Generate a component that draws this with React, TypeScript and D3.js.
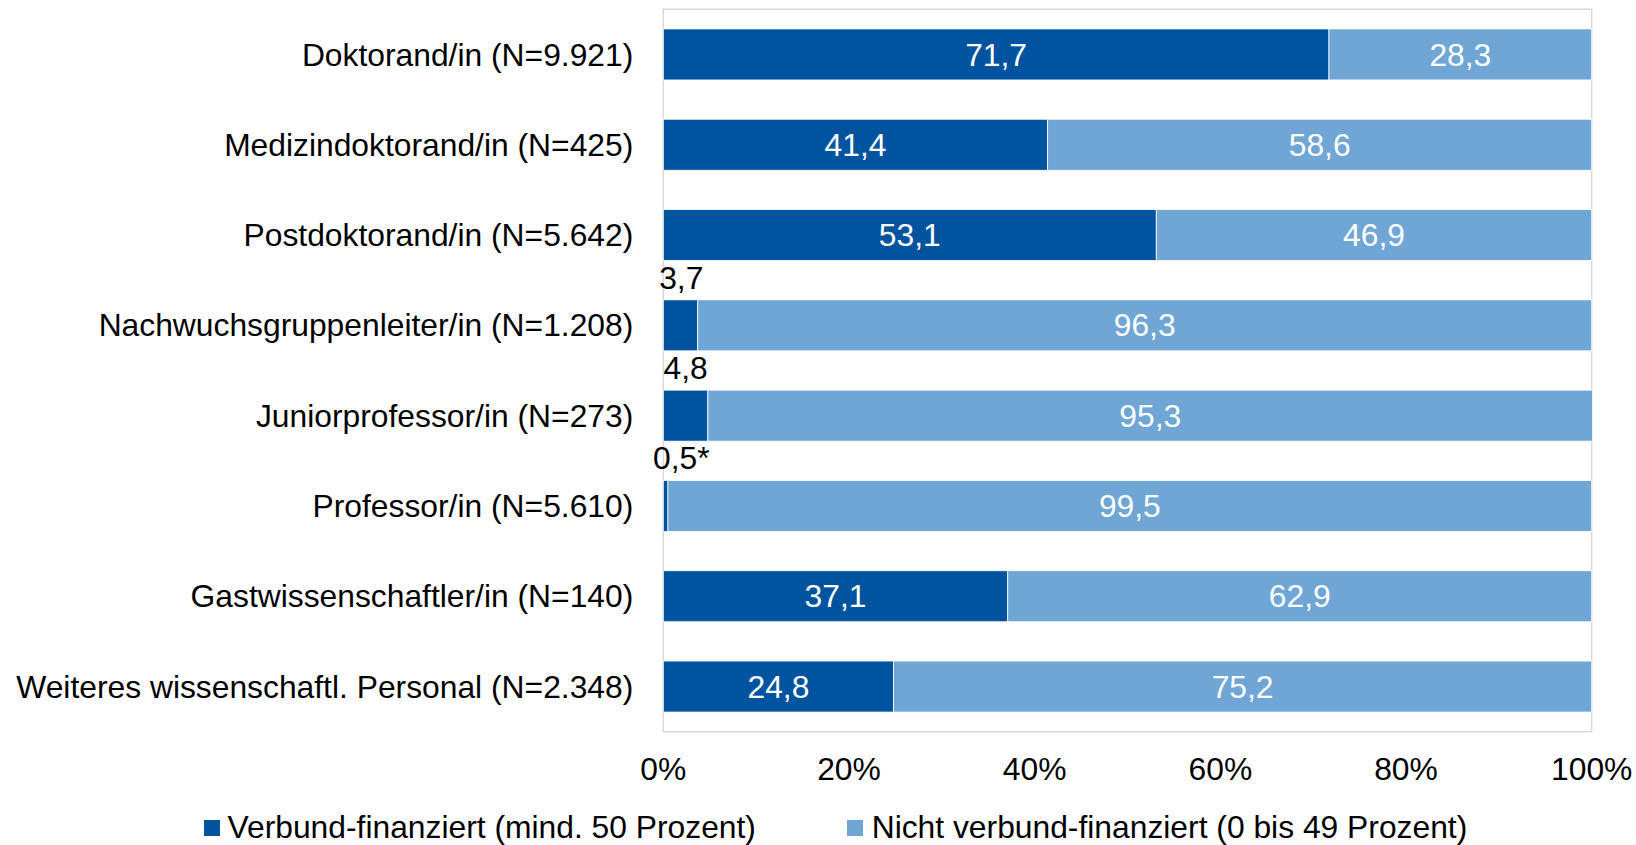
import React from "react";
import * as d3 from "d3";

const categories = [
  "Doktorand/in (N=9.921)",
  "Medizindoktorand/in (N=425)",
  "Postdoktorand/in (N=5.642)",
  "Nachwuchsgruppenleiter/in (N=1.208)",
  "Juniorprofessor/in (N=273)",
  "Professor/in (N=5.610)",
  "Gastwissenschaftler/in (N=140)",
  "Weiteres wissenschaftl. Personal (N=2.348)",
];
const verbund = [71.7, 41.4, 53.1, 3.7, 4.8, 0.5, 37.1, 24.8];
const nichtVerbund = [28.3, 58.6, 46.9, 96.3, 95.3, 99.5, 62.9, 75.2];
const verbundLabels = ["71,7", "41,4", "53,1", "3,7", "4,8", "0,5*", "37,1", "24,8"];
const nichtLabels = ["28,3", "58,6", "46,9", "96,3", "95,3", "99,5", "62,9", "75,2"];
const ticks = [0, 20, 40, 60, 80, 100];
const seriesNames = ["Verbund-finanziert (mind. 50 Prozent)", "Nicht verbund-finanziert (0 bis 49 Prozent)"];

const W = 1636;
const H = 845;
const left = 663.3;
const right = 1591.7;
const top = 9.3;
const bottom = 731.7;
const DARK = "#00539F";
const LIGHT = "#6FA6D5";
const FONT = "'Liberation Sans', Arial, sans-serif";
const FS = 31.8;

export default function App() {
  const x = d3.scaleLinear().domain([0, 100]).range([left, right]);
  const y = d3.scaleBand<string>().domain(categories).range([top, bottom]).paddingInner(0.435).paddingOuter(0.2175);
  const bw = y.bandwidth();

  return (
    <svg width={W} height={H} style={{ position: "absolute", left: 0, top: 0, background: "#fff" }} fontFamily={FONT}>
      <rect x={left} y={top} width={right - left} height={bottom - top} fill="none" stroke="#D9D9D9" strokeWidth={1.5} />
      {categories.map((c, i) => {
        const y0 = y(c)!;
        const x0 = x(0);
        const x1 = x(verbund[i]);
        const x2 = x(verbund[i] + nichtVerbund[i]);
        const small = verbund[i] < 10;
        const cx1 = (x0 + x1) / 2;
        return (
          <g key={c}>
            <rect x={x0} y={y0} width={x1 - x0} height={bw} fill={DARK} stroke="#fff" strokeWidth={0.8} />
            <rect x={x1} y={y0} width={x2 - x1} height={bw} fill={LIGHT} stroke="#fff" strokeWidth={0.8} />
            {small ? (
              <text x={Math.max(cx1, left + 18)} y={y0 - 11} textAnchor="middle" fontSize={FS} fill="#000">
                {verbundLabels[i]}
              </text>
            ) : (
              <text x={cx1} y={y0 + bw / 2} dy="0.35em" textAnchor="middle" fontSize={FS} fill="#fff">
                {verbundLabels[i]}
              </text>
            )}
            <text x={(x1 + x2) / 2} y={y0 + bw / 2} dy="0.35em" textAnchor="middle" fontSize={FS} fill="#fff">
              {nichtLabels[i]}
            </text>
            <text x={633.3} y={y0 + bw / 2} dy="0.35em" textAnchor="end" fontSize={FS} fill="#000">
              {c}
            </text>
          </g>
        );
      })}
      {ticks.map((t) => (
        <text key={t} x={x(t)} y={780} textAnchor="middle" fontSize={FS} fill="#000">
          {t + "%"}
        </text>
      ))}
      <g>
        <rect x={204} y={820} width={16} height={16} fill={DARK} />
        <text x={227.5} y={827} dy="0.35em" fontSize={FS} fill="#000">{seriesNames[0]}</text>
        <rect x={847} y={820} width={16} height={16} fill={LIGHT} />
        <text x={871.7} y={827} dy="0.35em" fontSize={FS} fill="#000">{seriesNames[1]}</text>
      </g>
    </svg>
  );
}
